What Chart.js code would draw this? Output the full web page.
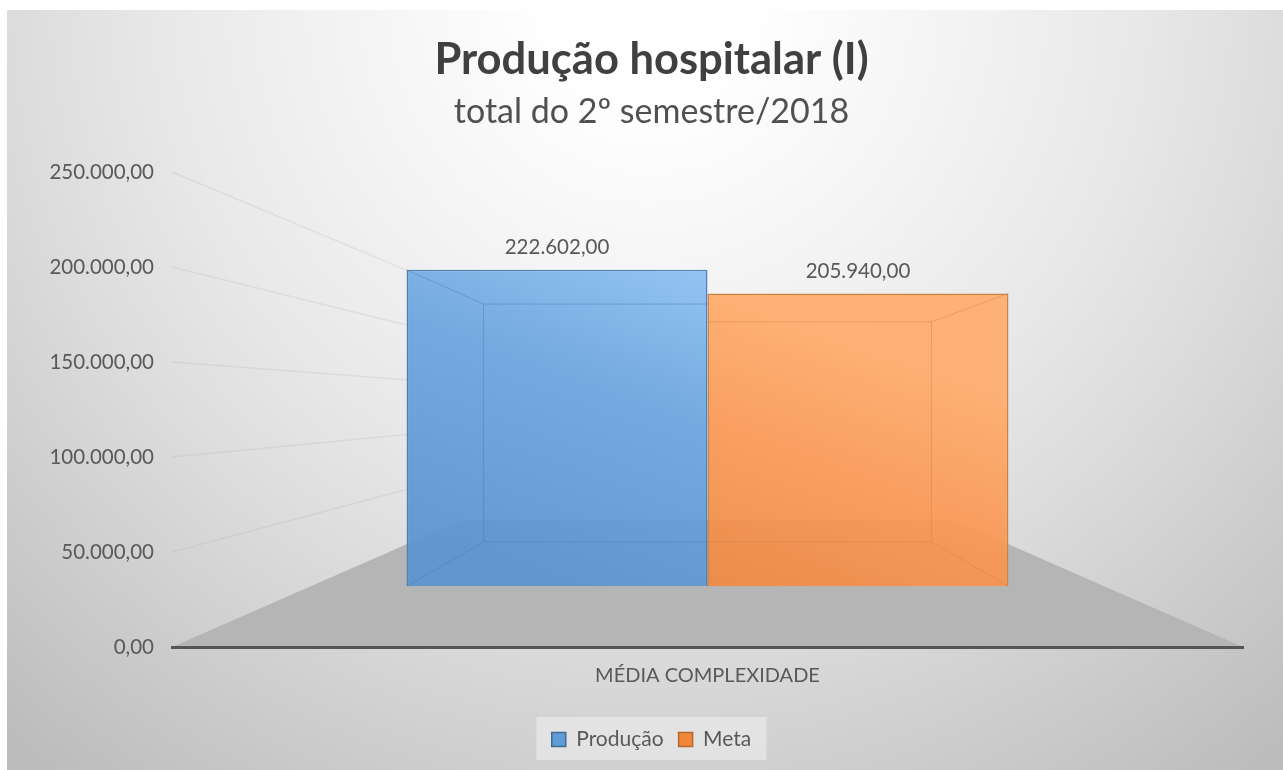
<!DOCTYPE html>
<html lang="pt">
<head>
<meta charset="utf-8">
<title>Produção hospitalar (I)</title>
<script src="https://cdn.jsdelivr.net/npm/chart.js@4"></script>
<style>
    html, body { margin: 0; padding: 0; background: #fff; }
    canvas { display: block; }
</style>
</head>
<body>
<canvas id="barCanvas" width="1283" height="770"></canvas>
<script>
const categories = ['MÉDIA COMPLEXIDADE'];
const producao = [222602];
const meta = [205940];
const tickLabels = ['0,00', '50.000,00', '100.000,00', '150.000,00', '200.000,00', '250.000,00'];
const valueLabels = [['222.602,00'], ['205.940,00']];

const FONT = 'Lato, "Open Sans", sans-serif';
const TEXT = '#595959';

// front plane of the 3D box: the bars stand on a nearer floor than the axis
const barScaleMin = -42837;
const barScaleMax = 291432;
const backRatio = 0.477;   // back wall height / axis height
const floorBackY = 520;
const floorBackInset = 290;
const innerBottomY = 542;
const innerPerValue = 1.069 / 1000;
const innerInset = 77;

// === Background, floor and perspective grid ===
const scenePlugin = {
    id: 'scene',
    beforeDraw(chart) {
        const c = chart.ctx;
        const g = c.createRadialGradient(650, 0, 0, 650, 0, 980);
        g.addColorStop(0.1, '#ffffff');
        g.addColorStop(0.3, '#f4f4f4');
        g.addColorStop(0.5, '#e8e8e8');
        g.addColorStop(0.65, '#dcdcdc');
        g.addColorStop(0.78, '#d0d0d0');
        g.addColorStop(1, '#bcbcbc');
        c.save();
        c.fillStyle = g;
        c.fillRect(7, 10, chart.width - 7, chart.height - 10);

        // legend backdrop
        const l = chart.legend;
        c.fillStyle = 'rgba(240,240,240,0.55)';
        c.fillRect(l.left + (l.width - 230) / 2, 717, 230, 43);
        c.restore();
    },
    beforeDatasetsDraw(chart) {
        const c = chart.ctx;
        const a = chart.chartArea;
        const y = chart.scales.y;
        c.save();
        c.fillStyle = '#b5b5b5';
        c.beginPath();
        c.moveTo(a.left, a.bottom);
        c.lineTo(a.left + floorBackInset, floorBackY);
        c.lineTo(a.right - floorBackInset, floorBackY);
        c.lineTo(a.right, a.bottom);
        c.closePath();
        c.fill();

        // grid lines run from the axis towards the back wall
        c.strokeStyle = 'rgba(170,170,170,0.2)';
        c.lineWidth = 1.5;
        y.ticks.forEach(t => {
            if (t.value === 0) return;
            const front = y.getPixelForValue(t.value);
            const back = floorBackY - (a.bottom - front) * backRatio;
            c.beginPath();
            c.moveTo(a.left, front);
            c.lineTo(a.left + floorBackInset, back);
            c.stroke();
        });
        c.restore();
    },
    afterDatasetsDraw(chart) {
        const c = chart.ctx;
        const sets = [
            { idx: 0, side: 1, line: 'rgba(70,120,175,0.4)', value: producao[0] },
            { idx: 1, side: -1, line: 'rgba(205,125,65,0.4)', value: meta[0] }
        ];
        c.save();
        sets.forEach(s => {
            const bar = chart.getDatasetMeta(s.idx).data[0];
            const half = bar.width / 2;
            const outer = bar.x - s.side * half;
            const inner = bar.x + s.side * half;
            const bx = outer + s.side * innerInset;
            const bTop = innerBottomY - s.value * innerPerValue;
            c.strokeStyle = s.line;
            c.lineWidth = 1;
            c.beginPath();
            c.moveTo(outer, bar.y);
            c.lineTo(bx, bTop);
            c.lineTo(inner, bTop);
            c.moveTo(bx, bTop);
            c.lineTo(bx, innerBottomY);
            c.lineTo(inner, innerBottomY);
            c.moveTo(bx, innerBottomY);
            c.lineTo(outer, bar.base);
            c.stroke();
        });

        // value labels
        c.fillStyle = TEXT;
        c.font = '20.5px ' + FONT;
        c.textAlign = 'center';
        c.textBaseline = 'middle';
        valueLabels.forEach((labels, i) => {
            const bar = chart.getDatasetMeta(i).data[0];
            c.fillText(labels[0], bar.x, bar.y - 22);
        });
        c.restore();
    }
};

function barGradient(chart, top, bottom, dark) {
    const a = chart.chartArea;
    if (!a) return dark;
    const g = chart.ctx.createLinearGradient(a.left + 500, 269, a.left + 380, 586);
    g.addColorStop(0, top);
    g.addColorStop(0.4, bottom);
    g.addColorStop(1, dark);
    return g;
}

const ctx = document.getElementById('barCanvas').getContext('2d');
const barChart = new Chart(ctx, {
    type: 'bar',
    plugins: [scenePlugin],
    data: {
        labels: categories,
        datasets: [{
            label: 'Produção',
            data: producao,
            yAxisID: 'yBar',
            backgroundColor: c => barGradient(c.chart, 'rgba(136,189,241,0.92)', 'rgba(106,164,222,0.92)', 'rgba(90,148,208,0.92)'),
            borderColor: '#4f80b3',
            borderWidth: 1.5
        }, {
            label: 'Meta',
            data: meta,
            yAxisID: 'yBar',
            backgroundColor: c => barGradient(c.chart, 'rgba(255,172,108,0.92)', 'rgba(250,152,84,0.92)', 'rgba(236,132,58,0.92)'),
            borderColor: '#c98345',
            borderWidth: 1.5
        }]
    },
    options: {
        responsive: false,
        animation: false,
        layout: { padding: { left: 40, right: 20, top: 34, bottom: 10 } },
        datasets: { bar: { categoryPercentage: 0.562, barPercentage: 1 } },
        plugins: {
            tooltip: { enabled: false },
            title: {
                display: true,
                text: 'Produção hospitalar (I)',
                color: '#404040',
                font: { family: FONT, size: 43.5, weight: 'bold' },
                padding: { top: 0, bottom: 5 }
            },
            subtitle: {
                display: true,
                text: 'total do 2º semestre/2018',
                color: '#505050',
                font: { family: FONT, size: 34 },
                padding: { top: 0, bottom: 40 }
            },
            legend: {
                display: true,
                position: 'bottom',
                labels: {
                    color: TEXT,
                    font: { family: FONT, size: 21 },
                    boxWidth: 14,
                    boxHeight: 14,
                    padding: 15,
                    generateLabels: () => [
                        { text: 'Produção', fillStyle: '#5f9bd6', strokeStyle: '#44698f', lineWidth: 1.5, fontColor: TEXT, datasetIndex: 0 },
                        { text: 'Meta', fillStyle: '#f0873a', strokeStyle: '#b5692f', lineWidth: 1.5, fontColor: TEXT, datasetIndex: 1 }
                    ]
                }
            }
        },
        scales: {
            x: {
                afterFit: scale => { scale.height = 67; },
                grid: { display: false },
                border: { display: true, color: '#555555', width: 3, z: 1 },
                ticks: { color: TEXT, font: { family: FONT, size: 20 }, padding: 9 }
            },
            y: {
                min: 0,
                max: 250000,
                afterFit: scale => { scale.width = 132; },
                grid: { display: false },
                border: { display: false },
                ticks: {
                    stepSize: 50000,
                    color: TEXT,
                    font: { family: FONT, size: 20.5 },
                    padding: 10,
                    callback: (value, i) => tickLabels[i]
                }
            },
            yBar: {
                position: 'right',
                min: barScaleMin,
                max: barScaleMax,
                afterFit: scale => { scale.width = 20; },
                grid: { display: false },
                border: { display: false },
                ticks: { display: false }
            }
        }
    }
});
</script>
</body>
</html>
